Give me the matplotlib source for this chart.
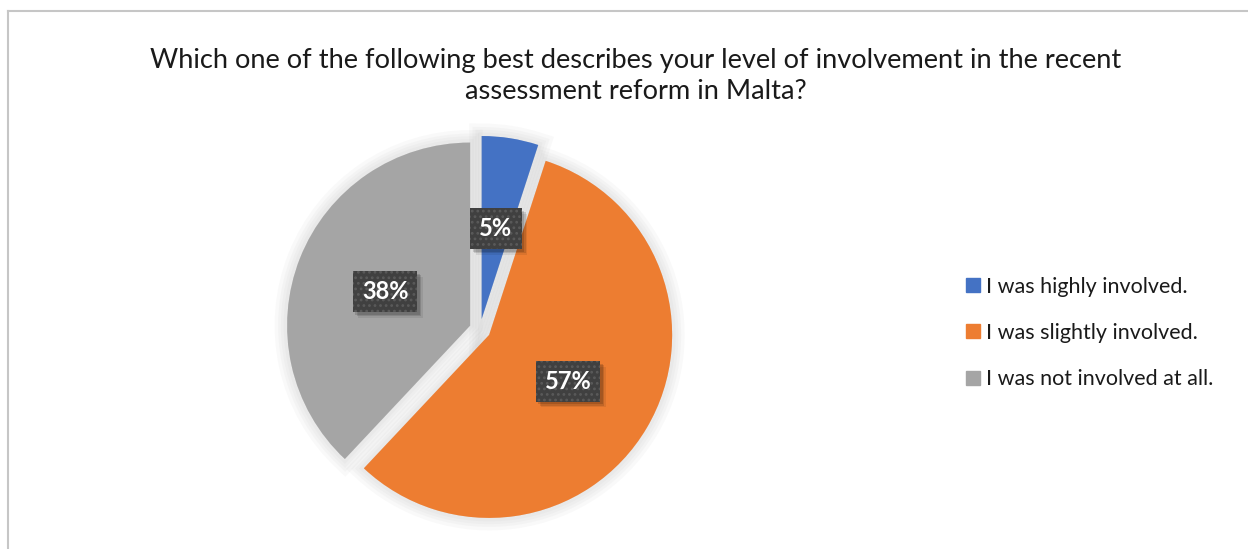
import matplotlib.pyplot as plt
import matplotlib.patheffects as pe
import matplotlib.transforms as mtransforms
from matplotlib.lines import Line2D
from matplotlib.patches import Rectangle

plt.rcParams['font.family'] = ['Lato', 'DejaVu Sans']
plt.rcParams['hatch.color'] = '#5a5a5a'
plt.rcParams['hatch.linewidth'] = 1.2

# survey answers
categories = ['I was highly involved.', 'I was slightly involved.', 'I was not involved at all.']
shares = [5, 57, 38]
colors = ['#4472C4', '#ED7D31', '#A5A5A5']
title = ('Which one of the following best describes your level of involvement in the recent\n'
         'assessment reform in Malta?')

W, H = 1248, 549
fig = plt.figure(figsize=(W / 100, H / 100), dpi=100)

# chart-area border (only top and left are inside the canvas)
fig.add_artist(Line2D([7.5 / W, 7.5 / W], [0, 1 - 10.5 / H], color='#c6c6c6', lw=1.5))
fig.add_artist(Line2D([7.5 / W, 1.0], [1 - 10.5 / H, 1 - 10.5 / H], color='#c6c6c6', lw=1.5))

fig.text(636 / W, 1 - 76 / H, title, ha='center', va='center', fontsize=19.6,
         color='#1a1a1a', linespacing=1.32)

# pie axes: centre at (480, 329.5) px, radius 183 px
cx, cy, r = 480, 329.5, 183
half = 210
ax = fig.add_axes([(cx - half) / W, (H - cy - half) / H, 2 * half / W, 2 * half / H])

wedges, texts, autotexts = ax.pie(
    shares, colors=colors, startangle=90, counterclock=False,
    explode=[0.058] * 3, radius=1.0, autopct='%1.0f%%', pctdistance=0.5,
    wedgeprops=dict(linewidth=0),
    textprops=dict(color='white', fontsize=17, fontweight='bold', zorder=5))
ax.set_xlim(-half / r, half / r)
ax.set_ylim(-half / r, half / r)
ax.set_aspect('equal')
ax.axis('off')

# soft glow-like shadow round each slice
glow = [pe.Stroke(linewidth=lw, foreground='#a0a0a0', alpha=0.06) for lw in (18, 13, 9, 5)]
for w in wedges:
    w.set_path_effects(glow + [pe.Normal()])

for t in autotexts:
    t.set_bbox(dict(boxstyle='square,pad=0.38', facecolor='#404040',
                    edgecolor='#5a5a5a', linewidth=0, hatch='...'))

# blurred drop shadow behind each label box, built from the drawn box extents
fig.canvas.draw()
pix = mtransforms.IdentityTransform()
for t in autotexts:
    bb = t.get_bbox_patch().get_window_extent()
    for k, a in ((5.5, 0.08), (4.0, 0.12), (2.5, 0.14)):
        ax.add_patch(Rectangle((bb.x0 + k, bb.y0 - k), bb.width, bb.height,
                               transform=pix, facecolor='black', alpha=a,
                               linewidth=0, zorder=4, clip_on=False))

handles = [Line2D([], [], linestyle='none', marker='s', markersize=9.5,
                  markerfacecolor=c, markeredgecolor=c) for c in colors]
fig.legend(handles, categories, loc='center left', bbox_to_anchor=(954 / W, 1 - 333 / H),
           frameon=False, fontsize=15.5, labelspacing=1.21, handlelength=0.8,
           handletextpad=0.2, borderpad=0, labelcolor='#1a1a1a')

fig.savefig('out.png', dpi=100, facecolor='white')
